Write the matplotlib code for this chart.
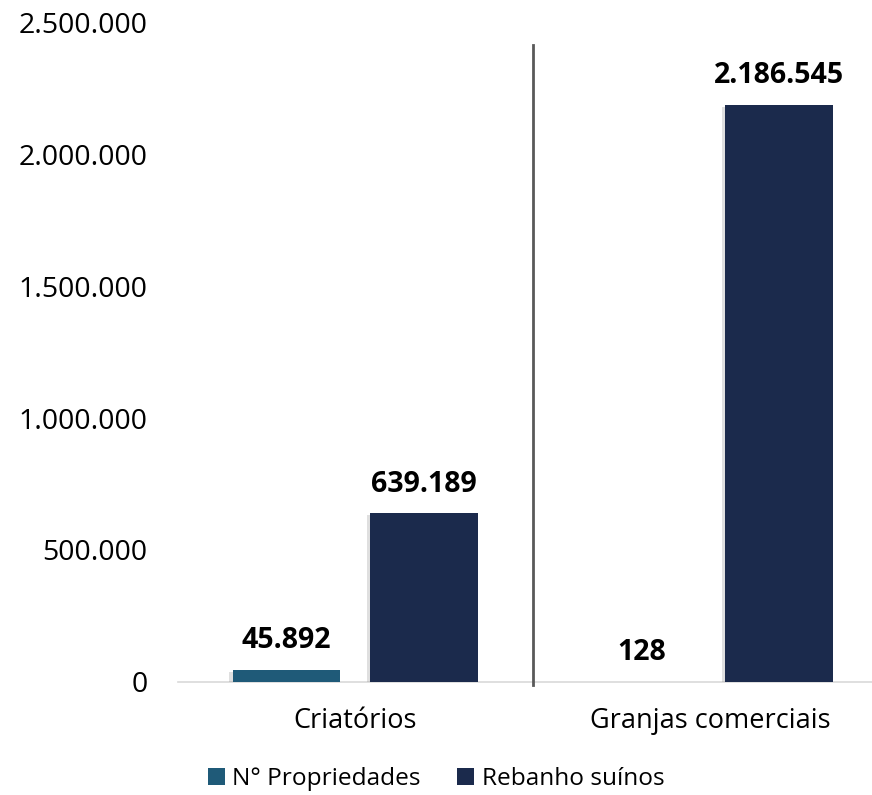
import matplotlib
matplotlib.use("Agg")
import matplotlib.pyplot as plt
import matplotlib.transforms as mtransforms
import matplotlib.patheffects as pe
from matplotlib.patches import Patch
import numpy as np

plt.rcParams['font.family'] = ['Open Sans', 'DejaVu Sans']

categories = ["Criatórios", "Granjas comerciais"]
series_names = ["N° Propriedades", "Rebanho suínos"]
propriedades = [45892, 128]
rebanho = [639189, 2186545]
yticks = [0, 500000, 1000000, 1500000, 2000000, 2500000]

colors = ["#1F5A78", "#1B2A4C"]

def fmt(v):
    return f"{v:,}".replace(",", ".")

fig = plt.figure(figsize=(8.72, 7.95), dpi=100)
ax = fig.add_axes([178/872, 1-682/795, 1-178/872, (682-22)/795])

x = np.arange(len(categories))
w = 0.304
off = 0.194
shadow = [pe.SimplePatchShadow(offset=(-2.5, -1.5), shadow_rgbFace="#808080", alpha=0.25), pe.Normal()]
b1 = ax.bar(x - off, propriedades, w, color=colors[0], label=series_names[0], zorder=3)
b2 = ax.bar(x + off, rebanho, w, color=colors[1], label=series_names[1], zorder=3)
for r in list(b1) + list(b2):
    r.set_path_effects(shadow)

for bars, vals in ((b1, propriedades), (b2, rebanho)):
    for r, v in zip(bars, vals):
        ax.annotate(fmt(v), (r.get_x() + r.get_width()/2, r.get_height()),
                    xytext=(0, 21), textcoords="offset points",
                    ha="center", va="center", fontsize=20.5, fontweight="bold",
                    color="black", zorder=4)

ax.set_xlim(-0.5, (872-355)/355)
ax.set_ylim(0, 2500000)
ax.set_yticks(yticks)
ax.set_yticklabels([fmt(v) for v in yticks], fontsize=20.5)
ax.set_xticks(x)
ax.set_xticklabels(categories, fontsize=19.5)
ax.tick_params(axis="y", length=0, pad=22)
ax.tick_params(axis="x", length=0, pad=18)
for s in ("top", "right", "left"):
    ax.spines[s].set_visible(False)
ax.spines["bottom"].set_color("#D9D9D9")
ax.spines["bottom"].set_linewidth(1.2)

trans = mtransforms.blended_transform_factory(ax.transData, ax.transAxes)
ax.plot([0.5, 0.5], [-0.005, 0.965], transform=trans, color="#595959",
        linewidth=2, clip_on=False, zorder=5)

handles = [Patch(facecolor=c, edgecolor="none") for c in colors]
fig.legend(handles=handles, labels=series_names, loc="center",
           bbox_to_anchor=(0.5, 1-779/795), ncol=2, frameon=False,
           fontsize=17.6, handlelength=0.7, handleheight=0.7,
           handletextpad=0.3, columnspacing=1.5)

fig.savefig("out.png", dpi=100)
